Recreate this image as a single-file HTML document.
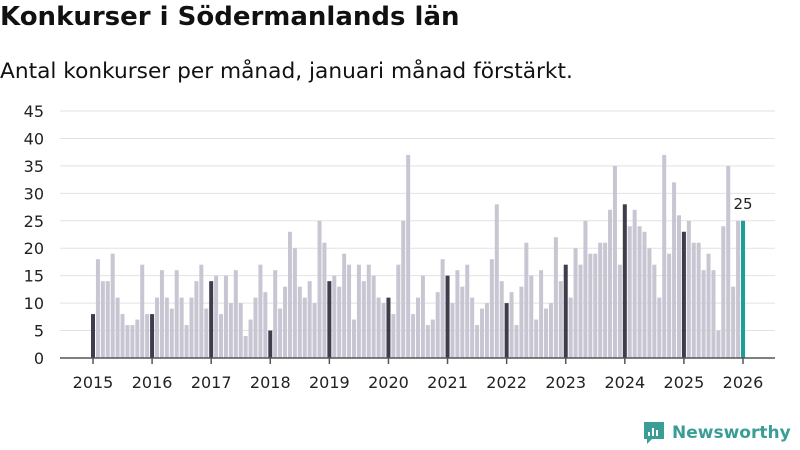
<!DOCTYPE html>
<html><head><meta charset="utf-8"><style>
body{margin:0;width:800px;height:450px;background:#fff;font-family:"DejaVu Sans","Liberation Sans",sans-serif;overflow:hidden;position:relative}
.t{position:absolute;left:0;top:2px;font-size:26px;font-weight:bold;color:#111}
.s{position:absolute;left:0;top:59px;font-size:21.7px;color:#111}
svg{position:absolute;left:0;top:0}
</style></head><body>
<div class="t">Konkurser i Södermanlands län</div>
<div class="s">Antal konkurser per månad, januari månad förstärkt.</div>
<svg id="c" width="800" height="450"></svg>
<script>
const values=[8,18,14,14,19,11,8,6,6,7,17,8,
8,11,16,11,9,16,11,6,11,14,17,9,
14,15,8,15,10,16,10,4,7,11,17,12,
5,16,9,13,23,20,13,11,14,10,25,21,
14,15,13,19,17,7,17,14,17,15,11,10,
11,8,17,25,37,8,11,15,6,7,12,18,
15,10,16,13,17,11,6,9,10,18,28,14,
10,12,6,13,21,15,7,16,9,10,22,14,
17,11,20,17,25,19,19,21,21,27,35,17,
28,24,27,24,23,20,17,11,37,19,32,26,
23,25,21,21,16,19,16,5,24,35,13,25,
25];
const yTicks=[0,5,10,15,20,25,30,35,40,45];
const years=[2015,2016,2017,2018,2019,2020,2021,2022,2023,2024,2025,2026];
const NS="http://www.w3.org/2000/svg",svg=document.getElementById('c');
const y=v=>358-v*(247/45), x=i=>93+i*(650/132);
function mk(t,a){const e=document.createElementNS(NS,t);for(const k in a)e.setAttribute(k,a[k]);svg.appendChild(e);return e;}
yTicks.forEach(v=>{
 const l=mk('line',{x1:60,x2:775,y1:y(v),y2:y(v),stroke:'#e2e2e2','stroke-width':1});
 
 
 const t=mk('text',{x:44,y:y(v)+6,'text-anchor':'end','font-size':16,fill:'#222'});t.textContent=v;
 
 
});
values.forEach((v,i)=>{
 const last=i===values.length-1,jan=i%12===0;
 const r=mk('rect',{x:x(i)-2,y:y(v),width:4,height:358-y(v),fill:last?'#1aa197':jan?'#3f3d4c':'#c8c6d2'});
 
 
 if(last){const t=mk('text',{x:x(i),y:y(v)-12,'text-anchor':'middle','font-size':15,fill:'#222'});t.textContent=v;
 
 }
});
const ax=mk('line',{x1:60,x2:775,y1:358,y2:358,stroke:'#555','stroke-width':1.5});


years.forEach((yr,k)=>{
 const xx=x(k*12);
 const tk=mk('line',{x1:xx,x2:xx,y1:358,y2:364,stroke:'#555','stroke-width':1.5});
 
 
 const t=mk('text',{x:xx,y:388,'text-anchor':'middle','font-size':16,fill:'#222'});t.textContent=yr;
 
 
});
</script>
<div style="position:absolute;left:642px;top:420px;display:flex;align-items:center">
<svg width="24" height="26" style="position:static"><path d="M2 2h20v17h-12l-5 5v-5H2z" fill="#3a9e96"/><rect x="6" y="12" width="2" height="4" fill="#fff"/><rect x="10" y="8" width="2" height="8" fill="#fff"/><rect x="14" y="10" width="2" height="6" fill="#fff"/></svg>
<span style="font-size:17px;font-weight:bold;color:#3a9e96;margin-left:6px">Newsworthy</span></div>
</body></html>
